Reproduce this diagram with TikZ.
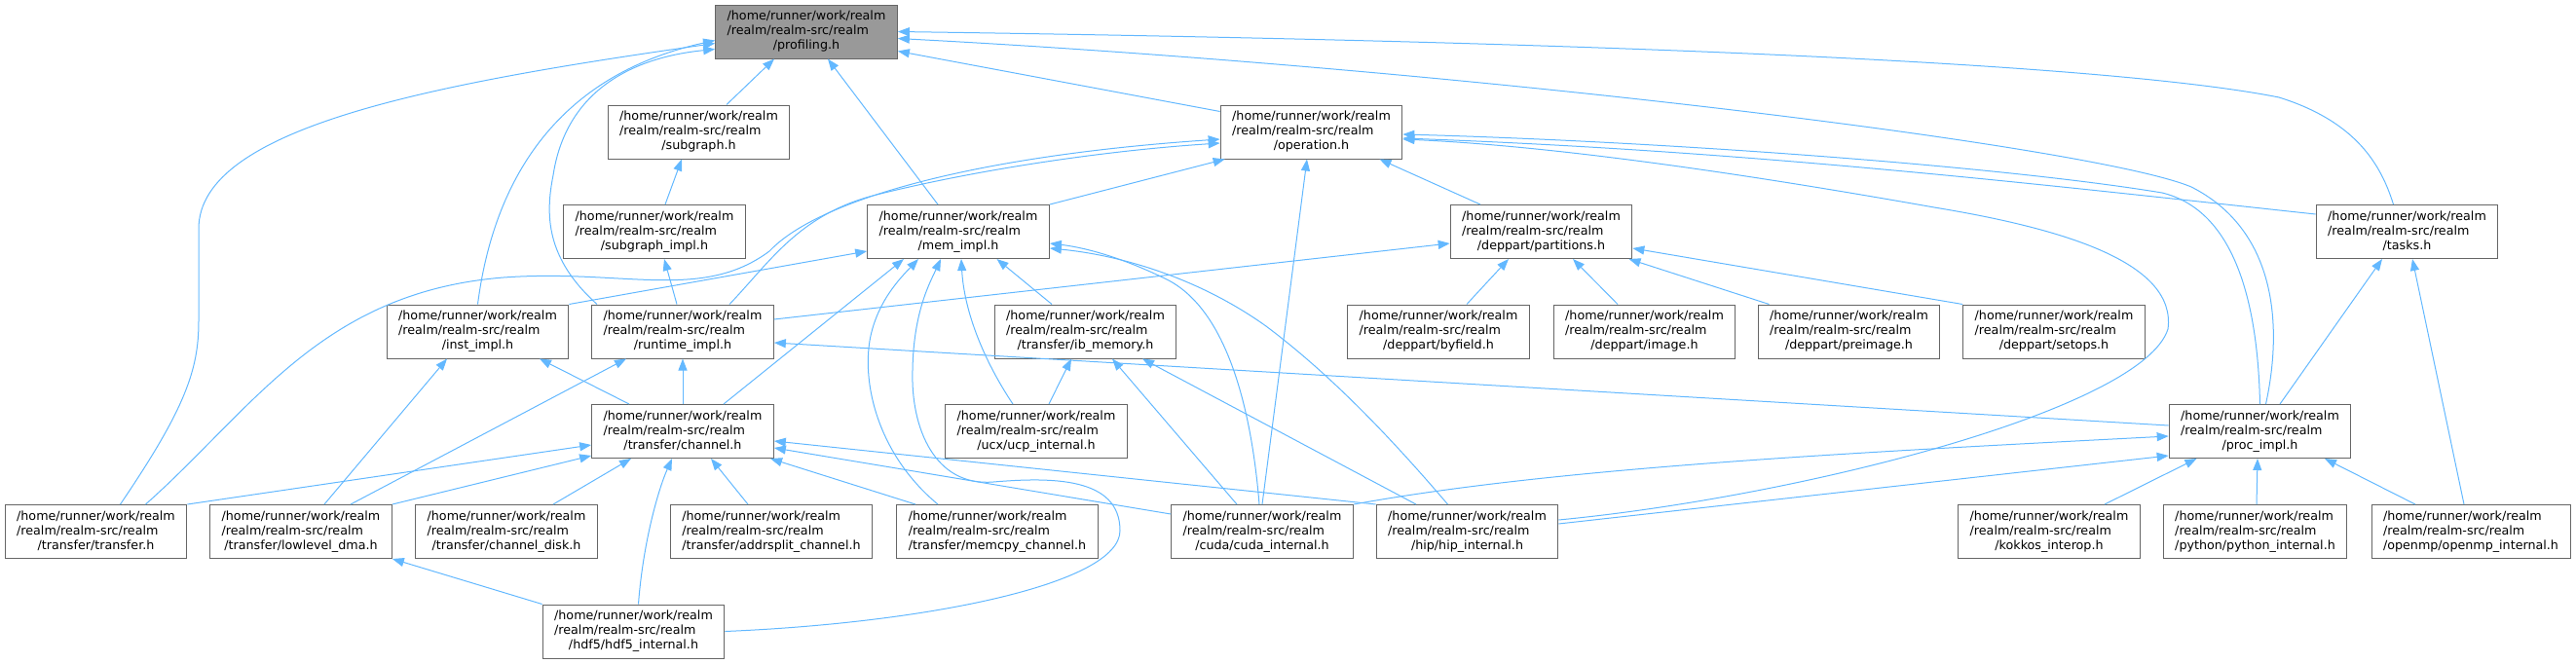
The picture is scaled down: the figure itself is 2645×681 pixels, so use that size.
\documentclass[tikz,border=0pt]{standalone}
\usepackage{fontspec}
\setmainfont{DejaVu Sans}
\usetikzlibrary{arrows.meta}
\definecolor{depblue}{HTML}{63B8FF}
\definecolor{boxgray}{HTML}{666666}
\definecolor{rootgray}{HTML}{999999}
\tikzset{
  file/.style     = {draw=boxgray, fill=white, line width=1pt, inner xsep=12pt,
                     inner ysep=5pt, minimum height=55pt,
                     font=\fontsize{12.7}{15}\selectfont},
  rootfile/.style = {file, fill=rootgray},
  dep/.style      = {draw=depblue, line width=1pt, -{Triangle[length=12pt,width=9pt]}}
}
\newcommand{\realmhdr}[1]{\begin{tabular}{@{}l@{}}/home/runner/work/realm\\
  /realm/realm-src/realm\\ \multicolumn{1}{@{}c@{}}{#1}\end{tabular}}

\begin{document}
\begin{tikzpicture}[x=1pt, y=-1pt]
\useasboundingbox (0,0) rectangle (2645,681);
% ---------------- top ----------------
\node[rootfile] (prof) at (828,32.5) {\realmhdr{/profiling.h}};
\node[file] (subg) at (717.5,135.5) {\realmhdr{/subgraph.h}};
\node[file] (oper) at (1346.5,135.5) {\realmhdr{/operation.h}};

% ---------------- second row ----------------
\node[file] (subgi) at (672,238) {\realmhdr{/subgraph\_impl.h}};
\node[file] (memi) at (984,238) {\realmhdr{/mem\_impl.h}};
\node[file] (part) at (1582.5,238) {\realmhdr{/deppart/partitions.h}};
\node[file] (tasks) at (2471.5,238) {\realmhdr{/tasks.h}};

% ---------------- third row ----------------
\node[file] (insti) at (490.5,340.5) {\realmhdr{/inst\_impl.h}};
\node[file] (rti) at (701,340.5) {\realmhdr{/runtime\_impl.h}};
\node[file] (ibmem) at (1114.5,340.5) {\realmhdr{/transfer/ib\_memory.h}};
\node[file] (byfld) at (1477,340.5) {\realmhdr{/deppart/byfield.h}};
\node[file] (img) at (1688.5,340.5) {\realmhdr{/deppart/image.h}};
\node[file] (preimg) at (1898.5,340.5) {\realmhdr{/deppart/preimage.h}};
\node[file] (setops) at (2109,340.5) {\realmhdr{/deppart/setops.h}};

% ---------------- fourth row ----------------
\node[file] (chan) at (701,443) {\realmhdr{/transfer/channel.h}};
\node[file] (ucp) at (1064,443) {\realmhdr{/ucx/ucp\_internal.h}};
\node[file] (proci) at (2320.5,443) {\realmhdr{/proc\_impl.h}};

% ---------------- bottom rows ----------------
\node[file] (xfer) at (98.5,546) {\realmhdr{/transfer/transfer.h}};
\node[file] (lldma) at (309,546) {\realmhdr{/transfer/lowlevel\_dma.h}};
\node[file] (chdisk) at (520,546) {\realmhdr{/transfer/channel\_disk.h}};
\node[file] (addrs) at (792,546) {\realmhdr{/transfer/addrsplit\_channel.h}};
\node[file] (mcpy) at (1024,546) {\realmhdr{/transfer/memcpy\_channel.h}};
\node[file] (cuda) at (1296,546) {\realmhdr{/cuda/cuda\_internal.h}};
\node[file] (hip) at (1506.5,546) {\realmhdr{/hip/hip\_internal.h}};
\node[file] (kokkos) at (2104,546) {\realmhdr{/kokkos\_interop.h}};
\node[file] (python) at (2315.5,546) {\realmhdr{/python/python\_internal.h}};
\node[file] (openmp) at (2537,546) {\realmhdr{/openmp/openmp\_internal.h}};
\node[file] (hdf) at (650.5,648.5) {\realmhdr{/hdf5/hdf5\_internal.h}};

% ---------------- edges into profiling.h ----------------
\draw[dep] ([xshift=28.5pt]subg.north) -- ([xshift=-33pt]prof.south);
\draw[dep] ([xshift=-21pt]memi.north) -- ([xshift=22pt]prof.south);
\draw[dep] ([yshift=-7pt]oper.north west) -- ([yshift=-20pt]prof.east);
\draw[dep] ([xshift=-14pt]tasks.north) .. controls (2445,170) and (2420,125) .. (2340,100)
      .. controls (2200,72) and (1800,45) .. (prof.east);
\draw[dep] ([xshift=6pt]proci.north) .. controls (2345,330) and (2335,235) .. (2250,192)
      .. controls (2150,150) and (1500,70) .. ([yshift=-7pt]prof.east);
\draw[dep] ([xshift=25pt]xfer.north) .. controls (190,420) and (204,380) .. (204,330)
      -- (204,235) .. controls (204,130) and (450,85) .. ([yshift=-12pt]prof.west);
\draw[dep] (insti.north) .. controls (505,200) and (560,80) .. ([yshift=-9pt]prof.west);
\draw[dep] ([xshift=-88pt]rti.north) .. controls (560,265) and (560,220) .. (568,180)
      .. controls (580,100) and (640,60) .. ([yshift=-18pt]prof.west);

% ---------------- edges into operation.h ----------------
\draw[dep] (memi.north east) -- ([xshift=5pt]oper.south west);
\draw[dep] ([xshift=-62.5pt]part.north) -- ([xshift=70pt]oper.south);
\draw[dep] (cuda.north) -- ([xshift=-4.5pt]oper.south);
\draw[dep] ([xshift=51pt]xfer.north) .. controls (260,420) and (330,300) .. (517,285)
      .. controls (640,276) and (720,310) .. (790,258)
      .. controls (840,205) and (1000,160) .. ([yshift=-7.5pt]oper.west);
\draw[dep] ([xshift=48pt]rti.north) .. controls (790,270) and (820,220) .. (900,200)
      .. controls (1000,175) and (1130,155) .. ([yshift=-11.5pt]oper.west);
\draw[dep] ([yshift=18pt]tasks.west) .. controls (2100,190) and (1800,155) .. ([yshift=-6.5pt]oper.east);
\draw[dep] (proci.north) .. controls (2318,300) and (2290,215) .. (2220,198)
      .. controls (2050,170) and (1700,145) .. ([yshift=-2.5pt]oper.east);
\draw[dep] ([yshift=12pt]hip.east) .. controls (1850,510) and (2200,420) .. (2226,338)
      .. controls (2235,270) and (2120,235) .. (1986,213)
      .. controls (1800,180) and (1600,150) .. ([yshift=-7.5pt]oper.east);

% subgraph chain
\draw[dep] ([xshift=11pt]subgi.north) -- ([xshift=-17.5pt]subg.south);
\draw[dep] ([xshift=-6pt]rti.north) -- ([xshift=10pt]subgi.south);

% ---------------- edges into mem_impl.h ----------------
\draw[dep] (insti.north east) -- ([yshift=-20pt]memi.west);
\draw[dep] ([xshift=42pt]chan.north) -- ([xshift=-56pt]memi.south);
\draw[dep] ([xshift=-61pt]mcpy.north) .. controls (905,470) and (885,400) .. (893,350)
      .. controls (900,310) and (925,285) .. ([xshift=-41pt]memi.south);
\draw[dep] (hdf.east) .. controls (950,640) and (1150,600) .. (1150,545)
      .. controls (1150,490) and (1080,490) .. (1020,495)
      .. controls (960,500) and (935,440) .. (937,380)
      .. controls (938,320) and (955,290) .. ([xshift=-18pt]memi.south);
\draw[dep] ([xshift=-24pt]ucp.north) .. controls (1010,370) and (990,320) .. ([xshift=3pt]memi.south);
\draw[dep] ([xshift=-34.5pt]ibmem.north) -- ([xshift=39.5pt]memi.south);
\draw[dep] ([xshift=-3pt]cuda.north) .. controls (1285,420) and (1260,320) .. (1200,288)
      .. controls (1160,268) and (1120,255) .. ([yshift=-12pt]memi.east);
\draw[dep] ([xshift=-20pt]hip.north) .. controls (1420,440) and (1360,380) .. (1300,335)
      .. controls (1230,285) and (1150,262) .. ([yshift=-17pt]memi.east);

% ---------------- edges into deppart/partitions.h ----------------
\draw[dep] ([yshift=12.5pt]rti.east) -- ([yshift=-12pt]part.west);
\draw[dep] ([xshift=29pt]byfld.north) -- ([xshift=-33.5pt]part.south);
\draw[dep] ([xshift=-27.5pt]img.north) -- ([xshift=32.5pt]part.south);
\draw[dep] ([xshift=-82pt]preimg.north) -- ([xshift=90pt]part.south);
\draw[dep] (setops.north west) -- ([yshift=-17pt]part.east);

% ---------------- edges into tasks.h ----------------
\draw[dep] ([xshift=20.5pt]proci.north) -- ([xshift=-25.5pt]tasks.south);
\draw[dep] ([xshift=-7pt]openmp.north) -- ([xshift=5.5pt]tasks.south);

% ---------------- edges into inst_impl.h / runtime_impl.h ----------------
\draw[dep] ([xshift=24pt]lldma.north) -- ([xshift=-31.5pt]insti.south);
\draw[dep] ([xshift=-55pt]chan.north) -- ([xshift=63.5pt]insti.south);
\draw[dep] ([xshift=51pt]lldma.north) -- ([xshift=-58pt]rti.south);
\draw[dep] (chan.north) -- (rti.south);
\draw[dep] ([yshift=6pt]proci.west) -- ([yshift=-11.5pt]rti.east);

% ---------------- edges into transfer/ib_memory.h ----------------
\draw[dep] ([xshift=13pt]ucp.north) -- ([xshift=-14.5pt]ibmem.south);
\draw[dep] ([xshift=-26pt]cuda.north) -- ([xshift=27.5pt]ibmem.south);
\draw[dep] ([xshift=-52.5pt]hip.north) -- ([xshift=58.5pt]ibmem.south);

% ---------------- edges into transfer/channel.h ----------------
\draw[dep] (xfer.north east) -- ([yshift=-14pt]chan.west);
\draw[dep] (lldma.north east) -- ([yshift=-25pt]chan.west);
\draw[dep] ([xshift=48pt]chdisk.north) -- ([xshift=-53pt]chan.south);
\draw[dep] ([xshift=5pt]hdf.north) .. controls (660,560) and (675,505) .. ([xshift=-11pt]chan.south);
\draw[dep] ([xshift=-24pt]addrs.north) -- ([xshift=29pt]chan.south);
\draw[dep] ([xshift=-84pt]mcpy.north) -- ([xshift=90pt]chan.south);
\draw[dep] (hip.north west) -- ([yshift=-10pt]chan.east);
\draw[dep] ([yshift=18pt]cuda.west) -- ([yshift=-17pt]chan.east);

% ---------------- edges into proc_impl.h ----------------
\draw[dep] ([xshift=57pt]kokkos.north) -- ([xshift=-65pt]proci.south);
\draw[dep] ([xshift=1.5pt]python.north) -- ([xshift=-2.5pt]proci.south);
\draw[dep] ([xshift=-57pt]openmp.north) -- ([xshift=66.5pt]proci.south);
\draw[dep] (cuda.north east) .. controls (1600,480) and (1900,465) .. ([yshift=-5pt]proci.west);
\draw[dep] ([yshift=8pt]hip.east) -- ([yshift=-25pt]proci.west);

% lowlevel_dma.h
\draw[dep] (hdf.north west) -- (lldma.south east);

\end{tikzpicture}
\end{document}
